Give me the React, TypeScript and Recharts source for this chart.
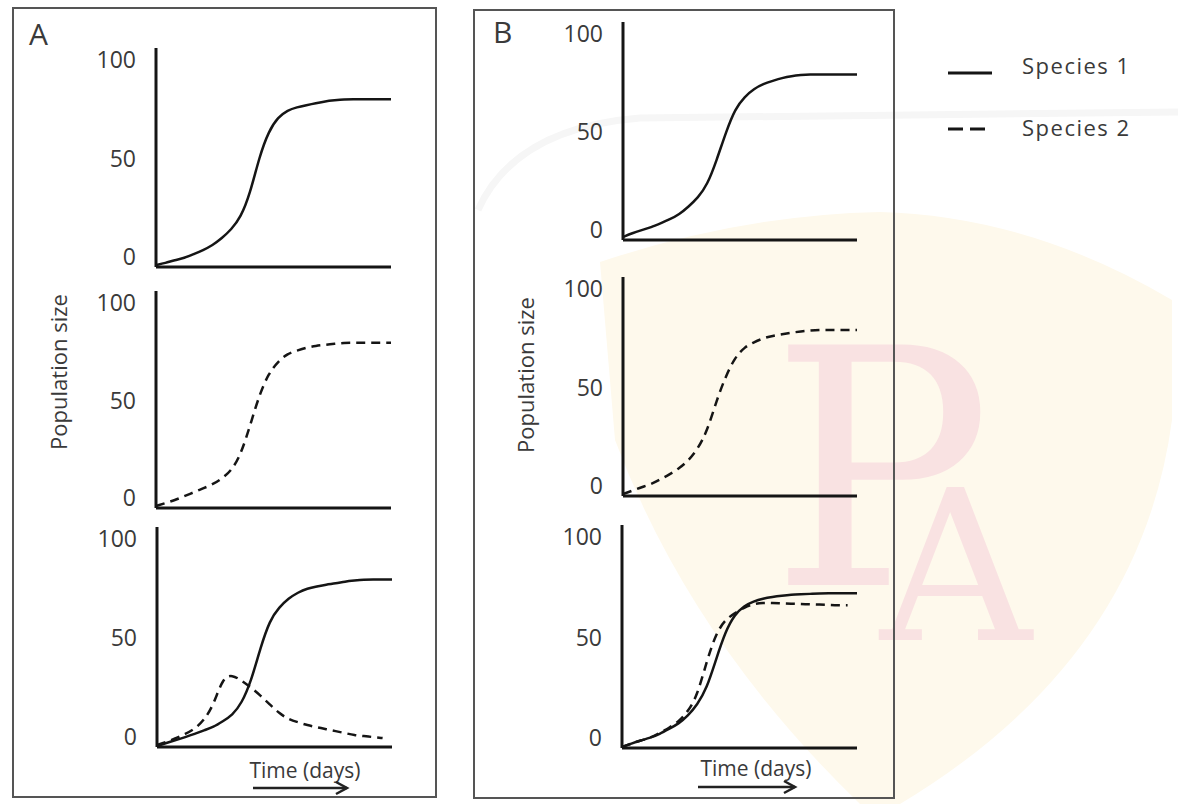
import { LineChart, Line, XAxis, YAxis } from "recharts";

// time grid shared by every sub-plot (arbitrary units, left = 0, right = 100)
const days = [0, 4, 8, 12, 16, 20, 24, 28, 32, 36, 40, 44, 48, 52, 56, 60, 64, 68, 72, 76, 80, 84, 88, 92, 96, 100];

// panel A
const a1Species1 = [-4, -3, -1.5, -0.5, 1.5, 3.5, 6, 9.5, 14, 20, 32, 51, 64, 71, 74.5, 76, 77, 78, 79, 79.5, 80, 80, 80, 80, 80, 80];
const a2Species2 = [-4, -2.5, -1, 1, 3, 5, 7, 10, 14, 22, 37, 53, 64, 70, 74, 75.5, 77, 78, 78.5, 79, 79.5, 79.5, 79.5, 79.5, 79.5, 79.5];
const a3Species1 = [-4.5, -3, -1.5, 0, 1.5, 3.5, 5, 8, 11, 17, 28, 45, 59, 65.5, 70, 73, 75, 76, 77, 77.5, 78.5, 79, 79.5, 79.5, 79.5, 79.5];
const a3Species2 = [-4, -2.5, -0.5, 1.5, 4, 8.5, 16, 30, 31.5, 28.5, 25, 21, 16.5, 12, 9, 7.5, 6, 5, 4, 3, 2, 1, 0.5, 0, -0.5, null];

// panel B
const b1Species1 = [-3.5, -1.5, 0, 1.5, 3.5, 5.5, 8, 12, 16.5, 23, 35.5, 50, 62, 68, 72, 74.5, 76, 77.5, 78.5, 79, 79.3, 79.3, 79.3, 79.3, 79.3, 79.3];
const b2Species2 = [-4, -2.3, -0.5, 1, 3.5, 6, 9, 13, 19, 28, 43.5, 56, 65.5, 70.5, 73, 75, 76.2, 77, 77.8, 78.4, 78.9, 79.2, 79.2, 79.2, 79.2, 79.2];
const b3Species1 = [-4.5, -2.8, -1.2, 0, 2, 4.5, 7, 11, 16.5, 24.5, 39, 53, 61.5, 65.8, 68, 69.4, 70.2, 70.8, 71.3, 71.5, 71.7, 72, 72, 72, 72, 72];
const b3Species2 = [-4.5, -2.8, -1.2, 0, 2.5, 5, 8, 13, 21, 38, 52, 59, 62, 65, 66.8, 67.3, 67.2, 67, 66.8, 66.7, 66.5, 66.4, 66.2, 66, 66, null];

const yTicks = [0, 50, 100];
const legendItems = ["Species 1", "Species 2"];

const INK = "#151515";
const TEXT = "#3a3a3a";
const FONT = '"Open Sans", "Noto Sans", sans-serif';
const Y_W = 70;
const PAD = 4;
const BOTTOM = 12;

type Series = { key: string; values: (number | null)[]; dashed: boolean };

function SubPlot({ x, y, w, h, series }: { x: number; y: number; w: number; h: number; series: Series[] }) {
  const data = days.map((d, i) => {
    const row: Record<string, number | null> = { day: d };
    series.forEach((s) => (row[s.key] = s.values[i]));
    return row;
  });

  return (
    <div style={{ position: "absolute", left: x - Y_W, top: y - PAD }}>
      <LineChart
        width={Y_W + w + PAD}
        height={h + PAD + 2 + BOTTOM}
        data={data}
        margin={{ top: PAD, right: PAD, left: 0, bottom: BOTTOM }}
      >
        <XAxis
          dataKey="day"
          type="number"
          domain={[0, 100]}
          tick={false}
          tickLine={false}
          height={2}
          axisLine={{ stroke: INK, strokeWidth: 3 }}
        />
        <YAxis
          domain={[-5, 106]}
          ticks={yTicks}
          interval={0}
          width={Y_W}
          allowDataOverflow
          tickLine={false}
          tickMargin={14}
          axisLine={{ stroke: INK, strokeWidth: 3 }}
          tick={{ fontSize: 23, fill: TEXT, fontFamily: FONT }}
        />
        {series.map((s) => (
          <Line
            key={s.key}
            type="basis"
            dataKey={s.key}
            stroke={INK}
            strokeWidth={2.5}
            strokeDasharray={s.dashed ? "9 6" : undefined}
            dot={false}
            isAnimationActive={false}
          />
        ))}
      </LineChart>
    </div>
  );
}

function Arrow({ x1, x2, y }: { x1: number; x2: number; y: number }) {
  return (
    <g stroke="#222" strokeWidth={2.5} fill="none">
      <line x1={x1} y1={y} x2={x2} y2={y} />
      <polyline points={`${x2 - 11},${y - 6} ${x2},${y} ${x2 - 11},${y + 6}`} />
    </g>
  );
}

export default function App() {
  return (
    <div style={{ position: "absolute", left: 0, top: 0, width: 1178, height: 804, background: "#fff", overflow: "hidden" }}>
      <svg width={1178} height={804} style={{ position: "absolute", left: 0, top: 0 }}>
        {/* faint watermark */}
        <path d="M 478 210 Q 515 128 640 118 L 1178 112" stroke="#f6f6f6" strokeWidth={7} fill="none" />
        <path
          d="M 600 262 Q 740 215 880 212 Q 1030 216 1172 300 L 1172 420 Q 1140 660 900 804 L 860 804 Q 690 640 615 440 Z"
          fill="#fef9ec"
        />
        <text x={770} y={585} fontSize={330} fontFamily='"DejaVu Serif", serif' fill="#f9e2e2">P</text>
        <text x={880} y={640} fontSize={210} fontFamily='"DejaVu Serif", serif' fill="#f9e2e2">A</text>

        {/* panel frames */}
        <rect x={13} y={8} width={423} height={789} fill="none" stroke="#555" strokeWidth={2} />
        <rect x={474} y={10} width={420} height={788} fill="none" stroke="#555" strokeWidth={2} />

        <text x={29} y={45} fontSize={30} fontFamily={FONT} fill={TEXT}>A</text>
        <text x={493} y={43} fontSize={30} fontFamily={FONT} fill={TEXT}>B</text>

        <text
          transform="translate(58 372) rotate(-90)"
          textAnchor="middle"
          dominantBaseline="central"
          fontSize={22}
          fontFamily={FONT}
          fill={TEXT}
        >
          Population size
        </text>
        <text
          transform="translate(525 375) rotate(-90)"
          textAnchor="middle"
          dominantBaseline="central"
          fontSize={22}
          fontFamily={FONT}
          fill={TEXT}
        >
          Population size
        </text>

        <text x={305} y={770} textAnchor="middle" dominantBaseline="central" fontSize={21} fontFamily={FONT} fill={TEXT}>
          Time (days)
        </text>
        <text x={756} y={768} textAnchor="middle" dominantBaseline="central" fontSize={21} fontFamily={FONT} fill={TEXT}>
          Time (days)
        </text>
        <Arrow x1={253} x2={347} y={788} />
        <Arrow x1={698} x2={795} y={787} />

        {/* legend */}
        <line x1={948} y1={73} x2={992} y2={73} stroke={INK} strokeWidth={3} />
        <line x1={948} y1={129} x2={992} y2={129} stroke={INK} strokeWidth={3} strokeDasharray="15 7" />
        {legendItems.map((name, i) => (
          <text
            key={name}
            x={1022}
            y={65 + i * 62}
            dominantBaseline="central"
            fontSize={22}
            letterSpacing={1.5}
            fontFamily={FONT}
            fill={TEXT}
          >
            {name}
          </text>
        ))}
      </svg>

      <SubPlot x={156} y={48} w={235} h={219} series={[{ key: "s1", values: a1Species1, dashed: false }]} />
      <SubPlot x={156} y={291} w={235} h={217} series={[{ key: "s2", values: a2Species2, dashed: true }]} />
      <SubPlot
        x={157}
        y={527}
        w={235}
        h={220}
        series={[
          { key: "s1", values: a3Species1, dashed: false },
          { key: "s2", values: a3Species2, dashed: true },
        ]}
      />

      <SubPlot x={623} y={22} w={234} h={218} series={[{ key: "s1", values: b1Species1, dashed: false }]} />
      <SubPlot x={623} y={277} w={234} h={219} series={[{ key: "s2", values: b2Species2, dashed: true }]} />
      <SubPlot
        x={622}
        y={525}
        w={235}
        h={223}
        series={[
          { key: "s1", values: b3Species1, dashed: false },
          { key: "s2", values: b3Species2, dashed: true },
        ]}
      />
    </div>
  );
}
